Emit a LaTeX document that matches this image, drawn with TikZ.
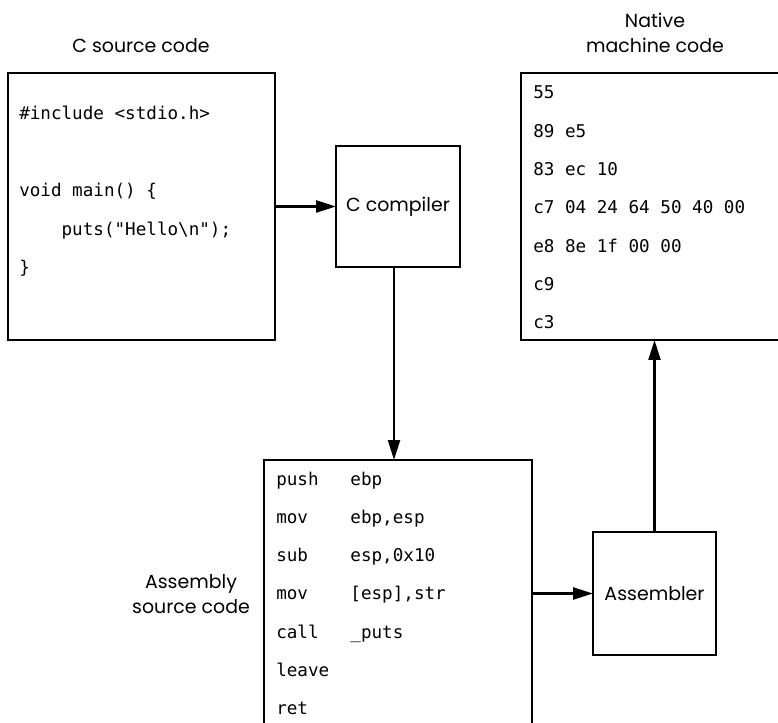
\documentclass[tikz,border=0pt]{standalone}
\usepackage{fontspec}
\setmainfont{Poppins}
\newfontfamily\codefont{DejaVu Sans Mono}
\usetikzlibrary{arrows.meta}
\tikzset{
  box/.style={draw, line width=1.7pt, inner sep=0pt, outer sep=0pt, rectangle},
  lbl/.style={font=\fontsize{14.2pt}{18.75pt}\selectfont, align=center, inner sep=0pt},
  code/.style={font=\codefont\fontsize{13.2pt}{16pt}\selectfont, anchor=base west, inner sep=0pt},
  arr/.style={line width=1.7pt, -{Triangle[length=15pt,width=9pt]}}
}
\begin{document}
\begin{tikzpicture}[x=0.75pt,y=-0.75pt]
\useasboundingbox (0,0) rectangle (778,723);
\clip (0,0) rectangle (778,723);
% boxes
\node[box, minimum width=200.25pt, minimum height=200.25pt] (csrc) at (141.5,206.5) {};
\node[box, minimum width=93pt, minimum height=90.75pt] (comp) at (398,206.5) {};
\node[lbl] (compt) at (398,206.5) {C compiler};
\node[box, minimum width=209.25pt, minimum height=200.25pt] (native) at (660.5,206.5) {};
\node[box, minimum width=201pt, minimum height=213.75pt] (asm) at (398,602.5) {};
\node[box, minimum width=92.25pt, minimum height=92.25pt] (asmb) at (654.5,593.5) {};
\node[lbl] (asmbt) at (654.5,593.5) {Assembler};
% labels
\node[lbl, anchor=base] (l1) at (141,53) {C source code};
\node[lbl, anchor=base] (l2a) at (655,28) {Native};
\node[lbl, anchor=base] (l2b) at (655,53) {machine code};
\node[lbl, anchor=base] (l3a) at (191,588) {Assembly};
\node[lbl, anchor=base] (l3b) at (191,613) {source code};
% C source
\node[code] (c1) at (19,120) {\#include <stdio.h>};
\node[code] (c2) at (19,197) {void main() \{};
\node[code] (c3) at (19,235.5) {\ \ \ \ puts("Hello\textbackslash n");};
\node[code] (c4) at (19,274) {\}};
% machine code
\node[code] (m1) at (533,99) {55};
\node[code] (m2) at (533,137.3) {89 e5};
\node[code] (m3) at (533,175.6) {83 ec 10};
\node[code] (m4) at (533,213.9) {c7 04 24 64 50 40 00};
\node[code] (m5) at (533,252.2) {e8 8e 1f 00 00};
\node[code] (m6) at (533,290.5) {c9};
\node[code] (m7) at (533,328.8) {c3};
% assembly
\node[code] (a1) at (276,485) {push\ \ \ ebp};
\node[code] (a2) at (276,523.3) {mov\ \ \ \ ebp,esp};
\node[code] (a3) at (276,561.6) {sub\ \ \ \ esp,0x10};
\node[code] (a4) at (276,599.9) {mov\ \ \ \ [esp],str};
\node[code] (a5) at (276,638.2) {call\ \ \ \_puts};
\node[code] (a6) at (276,676.5) {leave};
\node[code] (a7) at (276,714.8) {ret};
% connectors
\draw[arr] (csrc.east) -- (comp.west);
\draw[arr] ([xshift=-3pt]comp.south) -- ([xshift=-3pt]asm.north);
\draw[arr] (asm.east |- asmb.west) -- (asmb.west);
\draw[arr] (asmb.north) -- (asmb.north |- native.south);
\end{tikzpicture}
\end{document}
